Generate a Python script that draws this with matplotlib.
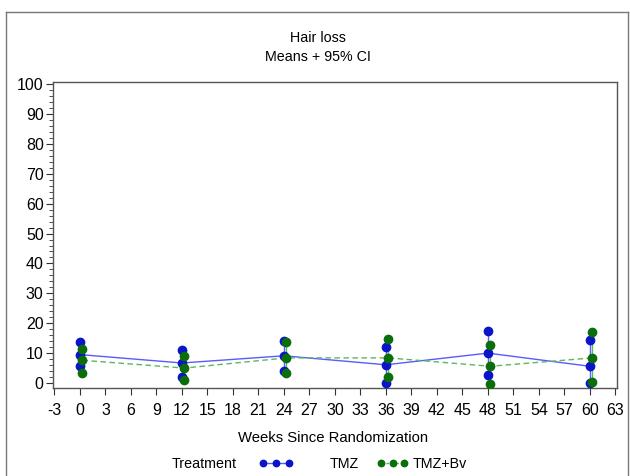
import matplotlib
matplotlib.use("Agg")
import matplotlib.pyplot as plt
from matplotlib.lines import Line2D
import numpy as np

plt.rcParams['font.family'] = ['Liberation Sans', 'DejaVu Sans']
plt.rcParams['axes.unicode_minus'] = False

weeks = [0, 12, 24, 36, 48, 60]
tmz_mean = [9.5, 6.7, 9.1, 6.1, 10.0, 5.6]
tmz_upper = [13.6, 10.9, 13.9, 12.0, 17.3, 14.5]
tmz_lower = [5.6, 1.9, 3.9, 0.0, 2.8, 0.0]
bv_mean = [7.6, 5.0, 8.4, 8.4, 5.6, 8.4]
bv_upper = [11.5, 9.2, 13.7, 14.8, 12.6, 16.9]
bv_lower = [3.5, 0.9, 3.3, 2.0, -0.2, 0.2]
xticks = list(range(-3, 64, 3))
yticks = list(range(0, 101, 10))

W, H = 630, 476
fig = plt.figure(figsize=(W / 100, H / 100), dpi=100)
ax = fig.add_axes([52.7 / W, 1 - 388 / H, (617 - 52.7) / W, (388 - 82) / H])

blue_m, blue_l = '#0a14c8', '#5a5aff'
green_m, green_l = '#0a6e0a', '#5cb85c'
off = 0.3
wb = np.array(weeks, dtype=float)
wg = wb + off

ax.plot(wb, tmz_mean, color=blue_l, lw=1.0, zorder=2)
ax.plot(wg, bv_mean, color=green_l, lw=1.0, ls=(0, (4, 2.5)), zorder=2)
ax.vlines(wb, tmz_lower, tmz_upper, color=blue_l, lw=1.0, zorder=2)
ax.vlines(wg, bv_lower, bv_upper, color=green_l, lw=1.0, zorder=2)
for arr in (tmz_mean, tmz_upper, tmz_lower):
    ax.plot(wb, arr, 'o', color=blue_m, ms=6, mec=blue_m, zorder=3)
for arr in (bv_mean, bv_upper, bv_lower):
    ax.plot(wg, arr, 'o', color=green_m, ms=6, mec=green_m, zorder=4)

ax.set_xlim(-3.2, 63.2)
ax.set_ylim(-1.67, 100.7)
ax.set_xticks(xticks)
ax.set_yticks(yticks)
ax.set_yticks(np.arange(0, 101, 2), minor=True)
ax.tick_params(axis='both', which='major', labelsize=11.5, length=5, color='#333333',
               direction='out')
ax.tick_params(axis='x', which='major', pad=5.5)
ax.tick_params(axis='y', which='major', pad=1.5)
ax.tick_params(axis='y', which='minor', length=3, color='#333333')
for s in ax.spines.values():
    s.set_color('#555555')
    s.set_linewidth(1.0)

fig.text(318 / W, 1 - 38 / H, 'Hair loss', ha='center', va='center', fontsize=10.3)
fig.text(318 / W, 1 - 57 / H, 'Means + 95% CI', ha='center', va='center', fontsize=10.3)
fig.text(333 / W, 1 - 438 / H, 'Weeks Since Randomization', ha='center', va='center', fontsize=10.7)
fig.text(172 / W, 1 - 464 / H, 'Treatment', ha='left', va='center', fontsize=10.3)

fs_px = 10.3 * 100 / 72
h1 = Line2D([], [], color=blue_l, lw=1, marker='o', ms=4.6, mfc=blue_m, mec=blue_m)
h2 = Line2D([], [], color=green_l, lw=1, ls=(0, (2, 1.5)), marker='o', ms=4.6, mfc=green_m, mec=green_m)
leg1 = fig.legend([h1], ['TMZ'], loc='center left', bbox_to_anchor=(259 / W, 1 - 464 / H),
                  frameon=False, numpoints=3, fontsize=10.3, handlelength=34.6 / fs_px,
                  handletextpad=36.4 / fs_px, borderpad=0, borderaxespad=0)
leg2 = fig.legend([h2], ['TMZ+Bv'], loc='center left', bbox_to_anchor=(377 / W, 1 - 464 / H),
                  frameon=False, numpoints=3, fontsize=10.3, handlelength=31.6 / fs_px,
                  handletextpad=4.4 / fs_px, borderpad=0, borderaxespad=0)

frame_c = '#777777'
fig.add_artist(Line2D([6 / W, 6 / W], [0, 1 - 12 / H], transform=fig.transFigure, color=frame_c, lw=1))
fig.add_artist(Line2D([6 / W, 628 / W], [1 - 12 / H, 1 - 12 / H], transform=fig.transFigure, color=frame_c, lw=1))
fig.add_artist(Line2D([628 / W, 628 / W], [0, 1 - 12 / H], transform=fig.transFigure, color=frame_c, lw=1))

fig.savefig('out.png', dpi=100)
